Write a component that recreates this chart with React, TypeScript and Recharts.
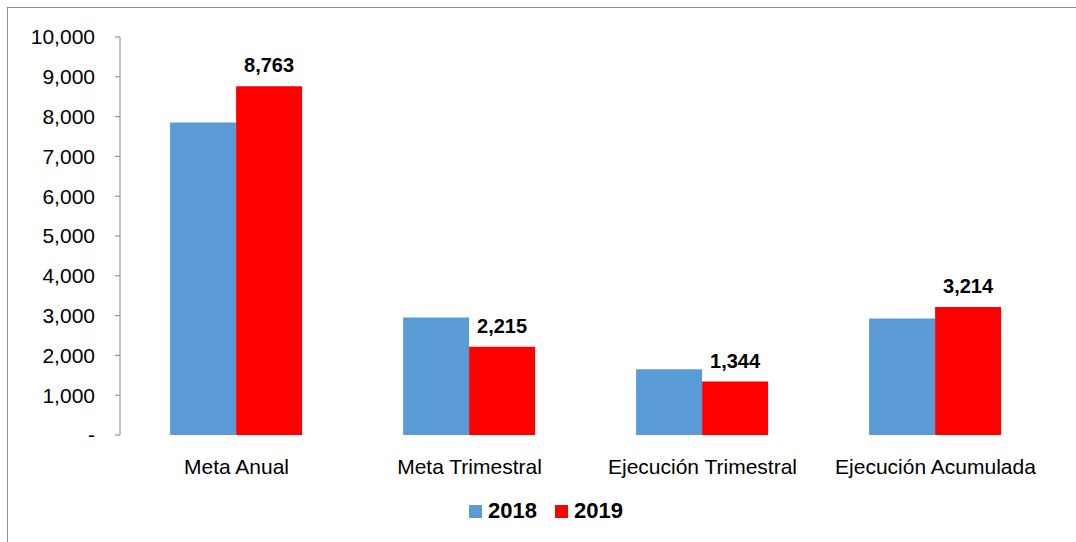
import { BarChart, Bar, XAxis, YAxis, Legend, LabelList } from "recharts";

const categories = [
  "Meta Anual",
  "Meta Trimestral",
  "Ejecución Trimestral",
  "Ejecución Acumulada",
];
const values2018 = [7850, 2950, 1650, 2930];
const values2019 = [8763, 2215, 1344, 3214];
const yTicks = [0, 1000, 2000, 3000, 4000, 5000, 6000, 7000, 8000, 9000, 10000];

const data = categories.map((name, i) => ({
  name,
  y2018: values2018[i],
  y2019: values2019[i],
}));

const FONT = '"Liberation Sans", Arial, sans-serif';
const AXIS = "#868686";
const BLUE = "#5B9BD5";
const RED = "#FF0000";

const formatTick = (v: number) => (v === 0 ? "-" : v.toLocaleString("en-US"));

const LegendContent = () => (
  <div
    style={{
      display: "flex",
      justifyContent: "center",
      alignItems: "center",
      fontFamily: FONT,
      fontWeight: "bold",
      fontSize: 22,
      color: "#000",
      height: 30,
    }}
  >
    {[
      { label: "2018", color: BLUE },
      { label: "2019", color: RED },
    ].map((it) => (
      <div key={it.label} style={{ display: "flex", alignItems: "center", margin: "0 9px" }}>
        <span style={{ width: 13, height: 13, background: it.color, marginRight: 6, display: "inline-block" }} />
        <span>{it.label}</span>
      </div>
    ))}
  </div>
);

export default function App() {
  return (
    <div style={{ position: "absolute", left: 0, top: 0, width: 1076, height: 542, background: "#fff", overflow: "hidden" }}>
      <div
        style={{
          position: "absolute",
          left: 7,
          top: 7,
          width: 1100,
          height: 600,
          borderLeft: "1px solid #8c8c8c",
          borderTop: "1px solid #8c8c8c",
        }}
      />
      <BarChart
        width={1076}
        height={542}
        data={data}
        margin={{ top: 37, right: 24, left: 0, bottom: 37 }}
        barCategoryGap="21.5%"
        barGap={0}
        style={{ position: "absolute", left: 0, top: 0, fontFamily: FONT }}
      >
        <XAxis
          xAxisId="grid"
          type="number"
          domain={[0, 4]}
          ticks={[0, 1, 2, 3, 4]}
          allowDataOverflow
          height={0}
          tick={false}
          tickSize={5}
          stroke={AXIS}
        />
        <XAxis
          xAxisId="cat"
          dataKey="name"
          height={40}
          axisLine={false}
          tickLine={false}
          tickMargin={18}
          tick={{ fill: "#000", fontSize: 21, fontFamily: FONT }}
          interval={0}
        />
        <YAxis
          width={120}
          domain={[0, 10000]}
          ticks={yTicks}
          tickFormatter={formatTick}
          tickSize={5}
          tickMargin={20}
          stroke={AXIS}
          tick={{ fill: "#000", fontSize: 21, fontFamily: FONT }}
          interval={0}
        />
        <Legend
          verticalAlign="bottom"
          content={<LegendContent />}
          wrapperStyle={{ left: 8, width: 1076, top: 496 }}
        />
        <Bar xAxisId="cat" dataKey="y2018" name="2018" fill={BLUE} isAnimationActive={false} />
        <Bar xAxisId="cat" dataKey="y2019" name="2019" fill={RED} isAnimationActive={false}>
          <LabelList
            dataKey="y2019"
            position="top"
            offset={14}
            formatter={(v: any) => Number(v).toLocaleString("en-US")}
            style={{ fill: "#000", fontWeight: "bold", fontSize: 20, fontFamily: FONT }}
          />
        </Bar>
      </BarChart>
    </div>
  );
}
